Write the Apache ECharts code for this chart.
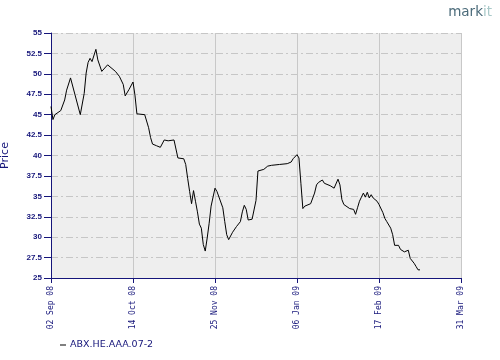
<!DOCTYPE html>
<html>
<head>
<meta charset="utf-8">
<script src="https://cdn.jsdelivr.net/npm/echarts@6/dist/echarts.min.js"></script>
<style>
html,body{margin:0;padding:0;background:#ffffff;}
#chart{width:500px;height:360px;}
</style>
</head>
<body>
<div id="chart"></div>
<script>
// ---- data ----
var seriesName = 'ABX.HE.AAA.07-2';
var startDate = '2008-09-02';
var endDate = '2009-03-31';
var tickIntervalDays = 42;
var dates = [
 '2008-09-02','2008-09-03','2008-09-04','2008-09-07','2008-09-09','2008-09-10','2008-09-12','2008-09-17','2008-09-19','2008-09-20',
 '2008-09-21','2008-09-22','2008-09-23','2008-09-25','2008-09-26','2008-09-28','2008-09-29','2008-10-01','2008-10-02','2008-10-05',
 '2008-10-07','2008-10-09','2008-10-10','2008-10-12','2008-10-14','2008-10-15','2008-10-16','2008-10-20','2008-10-22','2008-10-23',
 '2008-10-24','2008-10-26','2008-10-28','2008-10-29','2008-10-30','2008-11-01','2008-11-02','2008-11-04','2008-11-05','2008-11-06',
 '2008-11-09','2008-11-10','2008-11-11','2008-11-12','2008-11-13','2008-11-14','2008-11-15','2008-11-16','2008-11-17','2008-11-18',
 '2008-11-19','2008-11-20','2008-11-21','2008-11-22','2008-11-23','2008-11-25','2008-11-26','2008-11-27','2008-11-29','2008-11-30',
 '2008-12-01','2008-12-02','2008-12-04','2008-12-05','2008-12-06','2008-12-08','2008-12-09','2008-12-10','2008-12-11','2008-12-12',
 '2008-12-14','2008-12-15','2008-12-16','2008-12-17','2008-12-18','2008-12-20','2008-12-22','2008-12-24','2008-12-28','2009-01-01',
 '2009-01-03','2009-01-04','2009-01-06','2009-01-07','2009-01-08','2009-01-09','2009-01-10','2009-01-13','2009-01-14','2009-01-15',
 '2009-01-16','2009-01-17','2009-01-19','2009-01-20','2009-01-21','2009-01-23','2009-01-25','2009-01-26','2009-01-27','2009-01-28',
 '2009-01-29','2009-01-30','2009-01-31','2009-02-02','2009-02-03','2009-02-04','2009-02-05','2009-02-06','2009-02-07','2009-02-08',
 '2009-02-09','2009-02-10','2009-02-11','2009-02-12','2009-02-13','2009-02-14','2009-02-16','2009-02-17','2009-02-18','2009-02-19',
 '2009-02-20','2009-02-21','2009-02-22','2009-02-23','2009-02-24','2009-02-25','2009-02-26','2009-02-27','2009-02-28','2009-03-01',
 '2009-03-02','2009-03-03','2009-03-04','2009-03-05','2009-03-06','2009-03-07','2009-03-08','2009-03-09','2009-03-10'
];
var prices = [
 46.0,44.4,45.0,45.5,46.8,48.0,49.5,45.0,47.6,50.1,
 51.4,51.9,51.5,53.0,51.7,50.3,50.5,51.1,51.0,50.3,
 49.7,48.7,47.3,48.1,49.0,47.4,45.1,45.0,43.4,42.2,
 41.4,41.2,41.0,41.1,41.9,41.8,41.7,41.9,41.7,39.7,
 39.6,38.9,37.2,35.6,34.1,35.7,34.4,33.1,31.6,31.1,
 29.1,28.3,29.9,31.7,33.8,36.0,35.6,35.4,33.6,31.9,
 30.3,29.7,30.6,30.6,31.3,31.9,33.1,33.9,33.4,32.1,
 32.2,32.3,34.5,38.1,37.9,38.3,38.7,38.8,38.9,39.0,
 39.2,39.6,40.1,39.7,36.6,33.5,33.8,34.1,34.2,35.4,
 36.4,36.7,37.0,36.6,36.8,36.3,36.0,35.9,37.1,36.4,
 34.6,34.0,33.8,33.5,33.7,33.4,32.8,33.6,34.4,34.9,
 35.4,34.9,35.5,34.8,35.2,34.8,34.4,34.0,33.8,33.0,
 32.3,31.9,31.7,31.1,30.3,29.0,29.1,29.0,28.5,28.3,
 28.2,28.4,28.4,27.4,27.2,26.8,26.4,26.0,26.0
];
var yMin = 25, yMax = 55, yInterval = 2.5;
var yTitle = 'Price';
var months = ['Jan','Feb','Mar','Apr','May','Jun','Jul','Aug','Sep','Oct','Nov','Dec'];

// ---- helpers ----
function toUTC(s){ var p = s.split('-'); return Date.UTC(+p[0], +p[1]-1, +p[2]); }
var DAY = 86400000;
var t0 = toUTC(startDate);
var span = (toUTC(endDate) - t0) / DAY;
function dayOffset(s){ return Math.round((toUTC(s) - t0) / DAY); }
function pad(n){ return (n < 10 ? '0' : '') + n; }
function fmtDay(v){
  var d = new Date(t0 + v * DAY);
  return pad(d.getUTCDate()) + ' ' + months[d.getUTCMonth()] + ' ' + pad(d.getUTCFullYear() % 100);
}
var lineData = dates.map(function(d, i){ return [dayOffset(d), prices[i]]; });

var navy = '#15157a';
var chart = echarts.init(document.getElementById('chart'), null, {renderer:'canvas'});
chart.setOption({
  animation: false,
  backgroundColor: '#ffffff',
  grid: {left: 51, right: 39, top: 33, bottom: 82, show: true, backgroundColor: '#eeeeee', borderWidth: 0,
         containLabel: false, outerBoundsMode: 'none'},
  xAxis: {
    type: 'value', min: 0, max: span, interval: tickIntervalDays,
    axisLine: {show: true, onZero: false, lineStyle: {color: navy, width: 1}},
    axisTick: {show: true, length: 5, lineStyle: {color: navy}},
    axisLabel: {rotate: 90, margin: 8, color: navy, fontFamily: 'DejaVu Sans Mono', fontSize: 8, formatter: fmtDay, showMinLabel: true, showMaxLabel: true},
    splitLine: {show: true, lineStyle: {color: '#c8c8c8', width: 1, type: 'solid'}}
  },
  yAxis: {
    type: 'value', min: yMin, max: yMax, interval: yInterval,
    name: yTitle, nameLocation: 'middle', nameGap: 40, nameRotate: 90,
    nameTextStyle: {color: navy, fontFamily: 'DejaVu Sans', fontSize: 11},
    axisLine: {show: true, lineStyle: {color: navy, width: 1}},
    axisTick: {show: true, length: 7, lineStyle: {color: navy}},
    axisLabel: {margin: 9, color: navy, fontFamily: 'Liberation Sans', fontWeight: 'bold', fontSize: 8, formatter: function(v){ return String(v); }},
    splitLine: {show: true, lineStyle: {color: '#c6c6c6', width: 1, type: [7,3,2,3]}}
  },
  legend: {
    left: 55, top: 335, icon: 'rect', itemWidth: 6, itemHeight: 1, itemGap: 10,
    textStyle: {color: navy, fontFamily: 'DejaVu Sans', fontSize: 9.5, padding: [0,0,0,-1]},
    data: [seriesName]
  },
  graphic: [{
    type: 'text', right: 8, top: 5,
    style: {
      text: '{a|mark}{b|it}',
      rich: {
        a: {fill: '#4b6b7a', fontFamily: 'DejaVu Sans', fontSize: 13.5},
        b: {fill: '#a9c9c9', fontFamily: 'DejaVu Sans', fontSize: 13.5}
      }
    }
  }],
  series: [{
    name: seriesName, type: 'line', data: lineData, showSymbol: false, symbol: 'none',
    lineStyle: {color: '#000000', width: 1}, itemStyle: {color: '#000000'}
  }]
});
</script>
</body>
</html>
